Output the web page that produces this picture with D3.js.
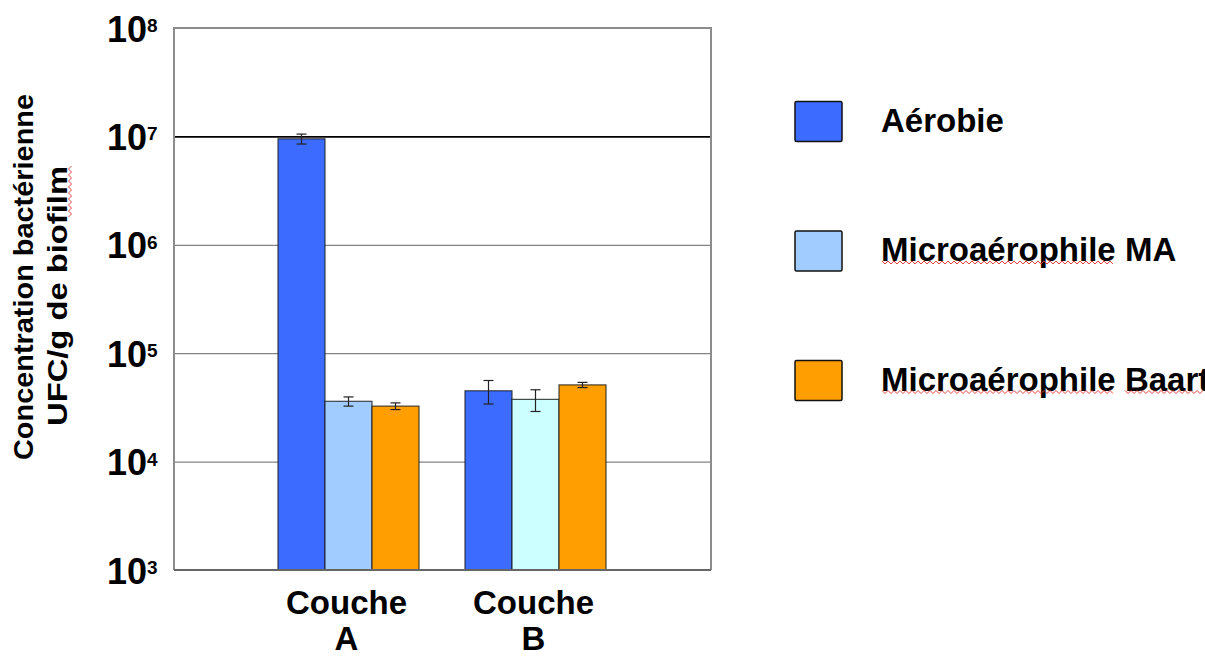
<!DOCTYPE html>
<html>
<head>
<meta charset="utf-8">
<script src="https://cdn.jsdelivr.net/npm/d3@7"></script>
<style>
  body { margin: 0; background: #fff; }
  text { font-family: "Liberation Sans", Arial, sans-serif; fill: #000; }
</style>
</head>
<body>
<div id="chart"></div>
<script>
// data
const categories = ["Couche A", "Couche B"];
const seriesNames = ["Aérobie", "Microaérophile MA", "Microaérophile Baart"];
const aerobie = [9.5e6, 4.5e4];
const microMA = [3.6e4, 3.75e4];
const microBaart = [3.25e4, 5.1e4];
const errAerobie = [1.0e6, 1.1e4];
const errMA = [3.5e3, 8.5e3];
const errBaart = [2.3e3, 2.8e3];
const yTicks = [1e3, 1e4, 1e5, 1e6, 1e7, 1e8];

const seriesValues = [aerobie, microMA, microBaart];
const seriesErrors = [errAerobie, errMA, errBaart];
const colors = ["#3b6bff", "#a0ccff", "#ff9e00"];
const colorMAB = "#ccffff"; // MA bar in Couche B is paler

// plot area
const W = 1205, H = 657;
const plot = {left: 174, right: 711, top: 28, bottom: 570};

const svg = d3.select("#chart")
  .append("svg")
    .attr("width", W)
    .attr("height", H);

// Y log scale
const y = d3.scaleLog()
  .domain([1e3, 1e8])
  .range([plot.bottom, plot.top]);

// X: groups then series inside each group
const x0 = d3.scaleBand()
  .domain(categories)
  .range([278, 606])
  .paddingInner(46 / 187);

const x1 = d3.scaleBand()
  .domain(seriesNames)
  .range([0, x0.bandwidth()]);

// gridlines + tick labels
const yAxis = svg.append("g")
  .attr("transform", "translate(" + plot.left + ",0)")
  .call(d3.axisLeft(y)
    .tickValues(yTicks)
    .tickSize(-(plot.right - plot.left))
    .tickFormat(() => ""));
yAxis.select(".domain").remove();
yAxis.selectAll(".tick line")
  .attr("stroke", d => d === 1e7 ? "#000" : "#666")
  .attr("stroke-width", d => d === 1e7 ? 1.6 : 1);
yAxis.selectAll(".tick").each(function(d) {
  const g = d3.select(this);
  g.append("text")
    .attr("x", -27)
    .attr("y", 13)
    .attr("text-anchor", "end")
    .style("font-size", "36px")
    .style("font-weight", "bold")
    .text("10");
  g.append("text")
    .attr("x", -27)
    .attr("y", 3.5)
    .attr("text-anchor", "start")
    .style("font-size", "19px")
    .style("font-weight", "bold")
    .text(Math.round(Math.log10(d)));
});

// frame
svg.append("path")
  .attr("d", "M" + plot.left + "," + plot.bottom + "V" + plot.top + "H" + plot.right + "V" + plot.bottom)
  .attr("fill", "none")
  .attr("stroke", "#8c8c8c")
  .attr("stroke-width", 2);

// bars
const barData = [];
categories.forEach((c, i) => {
  seriesNames.forEach((s, j) => {
    barData.push({cat: c, series: s, value: seriesValues[j][i], err: seriesErrors[j][i],
      color: (j === 1 && i === 1) ? colorMAB : colors[j]});
  });
});

svg.append("g").selectAll("rect")
  .data(barData)
  .enter()
  .append("rect")
    .attr("x", d => x0(d.cat) + x1(d.series))
    .attr("y", d => y(d.value))
    .attr("width", x1.bandwidth())
    .attr("height", d => plot.bottom - y(d.value))
    .attr("fill", d => d.color)
    .attr("stroke", "#1a1a1a")
    .attr("stroke-opacity", 0.8)
    .attr("stroke-width", 1.2);

// bottom axis line drawn over the bars
svg.append("line")
  .attr("x1", plot.left).attr("x2", plot.right)
  .attr("y1", plot.bottom).attr("y2", plot.bottom)
  .attr("stroke", "#666").attr("stroke-width", 2);

// error bars
const eb = svg.append("g").attr("stroke", "#222").attr("stroke-width", 1.2);
barData.forEach(d => {
  const cx = x0(d.cat) + x1(d.series) + x1.bandwidth() / 2;
  const yHi = y(d.value + d.err), yLo = y(d.value - d.err);
  eb.append("line").attr("x1", cx).attr("x2", cx).attr("y1", yHi).attr("y2", yLo);
  eb.append("line").attr("x1", cx - 5).attr("x2", cx + 5).attr("y1", yHi).attr("y2", yHi);
  eb.append("line").attr("x1", cx - 5).attr("x2", cx + 5).attr("y1", yLo).attr("y2", yLo);
});

// x labels (two lines)
const xAxis = svg.append("g")
  .attr("transform", "translate(0," + plot.bottom + ")")
  .call(d3.axisBottom(x0).tickSize(0).tickFormat(() => ""));
xAxis.select(".domain").remove();
xAxis.selectAll(".tick").each(function(d) {
  const parts = d.split(" ");
  const t = d3.select(this).append("text")
    .attr("text-anchor", "middle")
    .style("font-size", "33px")
    .style("font-weight", "bold");
  t.append("tspan").attr("x", -2).attr("y", 44).text(parts[0]);
  t.append("tspan").attr("x", -2).attr("y", 80).text(parts[1]);
});

// y title
const yTitle = svg.append("g").style("font-weight", "bold").style("font-size", "28px");
yTitle.append("text")
  .attr("transform", "translate(33,277) rotate(-90)")
  .attr("text-anchor", "middle")
  .attr("textLength", 366)
  .attr("lengthAdjust", "spacingAndGlyphs")
  .text("Concentration bactérienne");
yTitle.append("text")
  .attr("transform", "translate(66.5,296) rotate(-90)")
  .attr("text-anchor", "middle")
  .attr("textLength", 260)
  .attr("lengthAdjust", "spacingAndGlyphs")
  .text("UFC/g de biofilm");

// spell-check squiggle
function squiggle(g, x1, y1, x2, y2) {
  const len = Math.hypot(x2 - x1, y2 - y1), n = Math.floor(len / 3);
  const ux = (x2 - x1) / len, uy = (y2 - y1) / len;
  const pts = d3.range(n + 1).map(k => {
    const off = k % 2 ? 1.5 : -1.5;
    return [x1 + ux * k * 3 - uy * off, y1 + uy * k * 3 + ux * off];
  });
  g.append("path").attr("d", d3.line()(pts))
    .attr("fill", "none").attr("stroke", "#e03030").attr("stroke-width", 0.9);
}
squiggle(svg, 70, 166, 70, 217);

// legend
const legend = svg.append("g");
seriesNames.forEach((s, i) => {
  const cy = 121.5 + i * 129.5;
  legend.append("rect")
    .attr("x", 795).attr("y", cy - 20)
    .attr("width", 47).attr("height", 40)
    .attr("rx", 1.5)
    .attr("fill", colors[i])
    .attr("stroke", "#111").attr("stroke-width", 1.5);
  legend.append("text")
    .attr("x", 881).attr("y", cy + 10)
    .style("font-size", "33px")
    .style("font-weight", "bold")
    .text(s);
});
squiggle(legend, 882, 262.5, 1115, 262.5);
squiggle(legend, 882, 392, 1115, 392);
squiggle(legend, 1125, 392, 1205, 392);
</script>
</body>
</html>
